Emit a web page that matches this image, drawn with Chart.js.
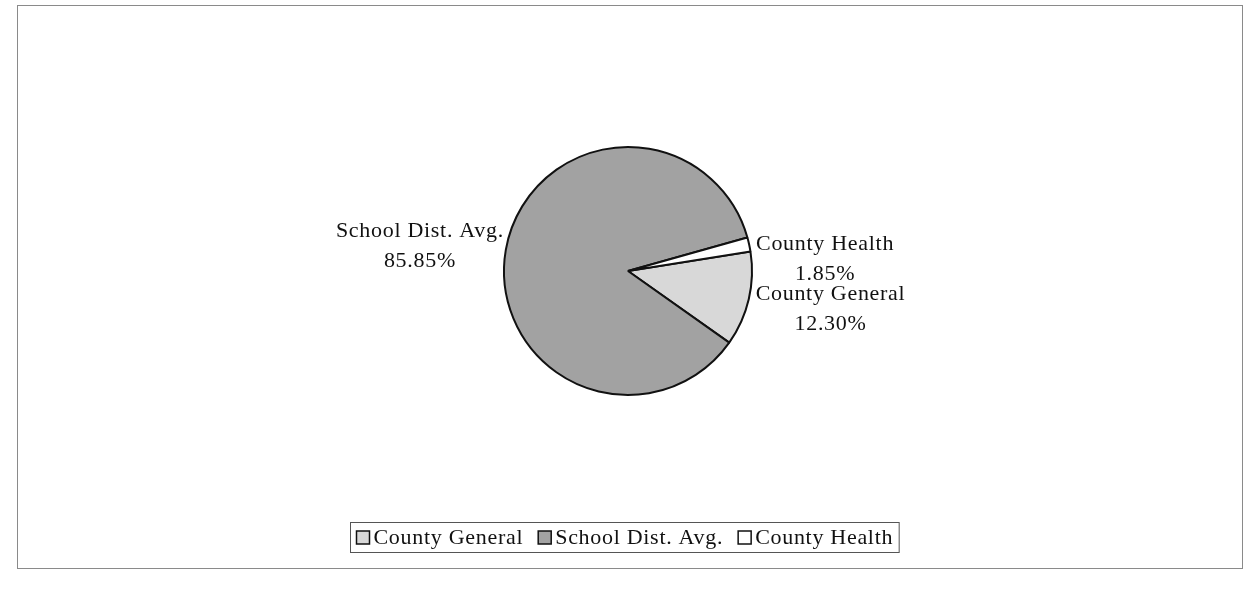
<!DOCTYPE html>
<html>
<head>
<meta charset="utf-8">
<script src="https://cdn.jsdelivr.net/npm/chart.js@4"></script>
<style>
  html, body { margin: 0; padding: 0; background: #fff; }
  #wrap { width: 1251px; height: 592px; }
</style>
</head>
<body>
<div id="wrap"><canvas id="pie"></canvas></div>
<script>
// data
const categories = ["County General", "School Dist. Avg.", "County Health"];
const shares = [12.30, 85.85, 1.85];
const sliceColors = ["#d8d8d8", "#a2a2a2", "#ffffff"];

const serif = "'Liberation Serif', 'Times New Roman', serif";
const textFont = "22px " + serif;
const spacing = "0.7px";

// scanned page frame
const framePlugin = {
  id: "frame",
  beforeDraw(chart) {
    const c = chart.ctx;
    c.save();
    c.strokeStyle = "#8a8a8a";
    c.lineWidth = 1;
    c.strokeRect(17.5, 5.5, 1225, 563);
    c.restore();
  }
};

// excel-style outside end labels
const labelNudge = [[3, 9], [2, -3], [3, 16]];
const sliceLabels = {
  id: "sliceLabels",
  afterDatasetsDraw(chart) {
    const c = chart.ctx;
    const meta = chart.getDatasetMeta(0);
    c.save();
    c.font = textFont;
    c.letterSpacing = spacing;
    c.fillStyle = "#111";
    c.textBaseline = "middle";
    c.textAlign = "center";
    meta.data.forEach((arc, i) => {
      const p = arc.getProps(["x", "y", "startAngle", "endAngle", "outerRadius"], true);
      const mid = (p.startAngle + p.endAngle) / 2;
      const ax = p.x + Math.cos(mid) * (p.outerRadius + 4) + labelNudge[i][0];
      const ay = p.y + Math.sin(mid) * (p.outerRadius + 4) + labelNudge[i][1];
      const lines = [categories[i], shares[i].toFixed(2) + "%"];
      const w = Math.max(...lines.map(t => c.measureText(t).width));
      const cx = Math.cos(mid) >= 0 ? ax + w / 2 : ax - w / 2;
      const lh = 30;
      lines.forEach((t, k) => {
        c.fillText(t, cx, ay + (k - (lines.length - 1) / 2) * lh);
      });
    });
    c.restore();
  }
};

// boxed legend under the pie
const boxLegend = {
  id: "boxLegend",
  afterDraw(chart) {
    const c = chart.ctx;
    c.save();
    c.font = textFont;
    c.letterSpacing = spacing;
    c.textBaseline = "middle";
    const box = 13, gapBox = 4, gapItem = 15, padX = 6;
    const widths = categories.map(t => c.measureText(t).width);
    let total = padX * 2;
    widths.forEach((w, i) => { total += box + gapBox + w + (i < widths.length - 1 ? gapItem : 0); });
    const left = Math.round(624.5 - total / 2) + 0.5;
    const top = 522.5, h = 30;
    c.strokeStyle = "#555";
    c.lineWidth = 1;
    c.strokeRect(left, top, total, h);
    let x = left + padX;
    const my = top + h / 2;
    categories.forEach((t, i) => {
      c.fillStyle = sliceColors[i];
      c.fillRect(x, my - box / 2, box, box);
      c.strokeStyle = "#111";
      c.lineWidth = 1.5;
      c.strokeRect(x, my - box / 2, box, box);
      x += box + gapBox;
      c.fillStyle = "#111";
      c.fillText(t, x, my + 1);
      x += widths[i] + gapItem;
    });
    c.restore();
  }
};

new Chart(document.getElementById("pie"), {
  type: "pie",
  data: {
    labels: categories,
    datasets: [
      {
        data: shares,
        backgroundColor: sliceColors,
        borderColor: "#111",
        borderWidth: 2,
        hoverOffset: 0,
      },
    ],
  },
  options: {
    responsive: true,
    maintainAspectRatio: false,
    animation: false,
    rotation: 81,
    layout: {
      padding: { top: 146, bottom: 196, left: 5, right: 0 },
    },
    plugins: {
      legend: { display: false },
      tooltip: { enabled: false },
    },
  },
  plugins: [framePlugin, sliceLabels, boxLegend],
});
</script>
</body>
</html>
